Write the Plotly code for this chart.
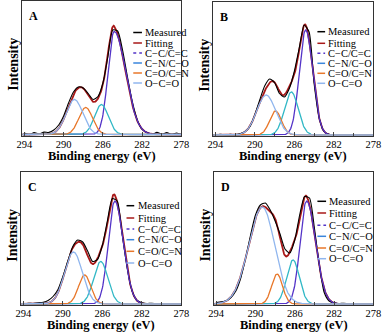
import numpy as np
import plotly.graph_objects as go

W, H = 390, 336
SERIF = "Liberation Serif"

# binding energy of the measured points (eV)
energy = [294.0, 293.5, 293.0, 292.5, 292.0, 291.5, 291.0, 290.5, 290.0, 289.5,
          289.0, 288.5, 288.0, 287.5, 287.0, 286.5, 286.0, 285.5, 285.0, 284.5,
          284.0, 283.5, 283.0, 282.5, 282.0, 281.5, 281.0, 280.5, 280.0, 279.5,
          279.0, 278.5, 278.0]

# measured C 1s intensity (a.u.)
measured_a = [3.0, 1.3, 3.4, 1.9, 3.9, 3.6, 6.0, 11.0, 20.0, 33.0,
              44.0, 49.0, 48.0, 42.5, 36.5, 39.5, 53.0, 79.0, 106.0, 105.0,
              86.0, 59.0, 34.0, 16.0, 6.5, 3.4, 1.5, 3.6, 1.8, 3.4,
              1.6, 3.0, 1.4]
measured_b = [1.2, 1.8, 1.0, 1.6, 1.4, 2.2, 4.3, 9.3, 21.0, 36.0,
              50.0, 57.0, 53.5, 42.5, 39.0, 47.5, 64.5, 88.0, 111.0, 104.0,
              53.0, 19.0, 4.5, 1.8, 1.2, 1.5, 0.9, 1.3, 1.0, 1.4,
              0.9, 1.2, 1.0]
measured_c = [1.2, 1.8, 1.4, 2.2, 2.8, 4.5, 8.5, 15.5, 28.5, 44.0,
              58.5, 65.0, 63.0, 54.0, 43.5, 45.5, 60.0, 84.0, 106.5, 104.0,
              70.5, 37.0, 14.0, 4.5, 2.2, 1.4, 1.8, 1.1, 1.5, 1.0,
              1.4, 0.9, 1.2]
measured_d = [2.4, 3.2, 4.3, 7.5, 14.0, 27.0, 47.0, 70.0, 90.0, 100.0,
              102.0, 95.0, 84.0, 71.0, 56.0, 52.0, 65.0, 90.0, 108.5, 107.0,
              77.0, 40.0, 12.5, 4.0, 2.2, 1.4, 1.8, 1.2, 1.5, 1.0,
              1.3, 0.9, 1.1]

component_names = ["C\u2212C/C=C", "C\u2212N/C\u2212O", "C=O/C=N", "O\u2212C=O"]
component_colors = ["#5434c8", "#31b8c6", "#e8772a", "#90b6ee"]
legend_colors = ["#5434c8", "#3a86dc", "#e8772a", "#90b6ee"]

# fitted peaks: centre (eV), height, width on high-BE side, width on low-BE side
centers_a = [284.85, 286.15, 287.75, 288.90]
heights_a = [103, 30, 27, 35]
width_hi_a = [0.63, 0.70, 0.70, 0.85]
width_lo_a = [1.17, 0.70, 0.70, 0.85]

centers_b = [284.85, 286.30, 287.90, 288.85]
heights_b = [105, 43, 24, 40]
width_hi_b = [0.64, 0.70, 0.60, 0.95]
width_lo_b = [0.72, 0.70, 0.60, 0.95]

centers_c = [284.75, 286.17, 287.80, 288.93]
heights_c = [103, 42.5, 29, 52]
width_hi_c = [0.65, 0.72, 0.62, 0.90]
width_lo_c = [0.86, 0.72, 0.62, 0.90]

centers_d = [284.80, 286.18, 287.80, 289.30]
heights_d = [103, 44, 30, 97]
width_hi_d = [0.65, 0.65, 0.55, 1.40]
width_lo_d = [0.92, 0.65, 0.55, 1.25]

backgrounds = [1.5, 1.0, 1.0, 1.0]

panels = [
    dict(label="A", meas=measured_a, c=centers_a, h=heights_a, whi=width_hi_a, wlo=width_lo_a,
         box=(17, 1, 182, 136), leg=(132, 141, 142, [32.5, 43, 53, 63, 73, 83])),
    dict(label="B", meas=measured_b, c=centers_b, h=heights_b, whi=width_hi_b, wlo=width_lo_b,
         box=(215, 2, 381, 136), leg=(323, 331, 332, [31.7, 43.3, 53.3, 63.3, 73.3, 83.3])),
    dict(label="C", meas=measured_c, c=centers_c, h=heights_c, whi=width_hi_c, wlo=width_lo_c,
         box=(16, 172, 182, 305), leg=(125, 133, 135, [205.7, 218, 229, 239.7, 251.3, 263])),
    dict(label="D", meas=measured_d, c=centers_d, h=heights_d, whi=width_hi_d, wlo=width_lo_d,
         box=(216, 172, 381, 305), leg=(323, 332, 333, [201.3, 213, 225.3, 236.3, 248, 258.7])),
]


def px(x):
    return x / W


def py(y):
    return 1 - y / H


def peak(e, c, h, whi, wlo):
    w = np.where(e >= c, whi, wlo)
    return h * np.exp(-(e - c) ** 2 / (2 * w ** 2))


e_fine = np.linspace(294.2, 278.0, 400)

fig = go.Figure()
annotations = []
shapes = []

for i, p in enumerate(panels):
    n = "" if i == 0 else str(i + 1)
    xa, ya = "x" + n, "y" + n
    bg = backgrounds[i]
    x0, y0, x1, y1 = p["box"]

    comps = [peak(e_fine, c, h, a, b) for c, h, a, b in zip(p["c"], p["h"], p["whi"], p["wlo"])]
    fit = bg + sum(comps)

    fig.add_trace(go.Scatter(x=e_fine, y=fit, mode="lines", xaxis=xa, yaxis=ya,
                             line=dict(color="#a81818", width=1.8), showlegend=False))
    fig.add_trace(go.Scatter(x=energy, y=p["meas"], mode="lines", xaxis=xa, yaxis=ya,
                             line=dict(color="#000000", width=1.1, shape="spline", smoothing=0.6),
                             showlegend=False))
    for comp, col in zip(comps, component_colors):
        fig.add_trace(go.Scatter(x=e_fine, y=comp + bg, mode="lines", xaxis=xa, yaxis=ya,
                                 line=dict(color=col, width=1.3), showlegend=False))

    axis_x = dict(domain=[px(x0), px(x1)], range=[294.2, 278.0], anchor=ya,
                  tickvals=[294, 290, 286, 282, 278], ticks="inside", ticklen=4,
                  minor=dict(tickvals=[292, 288, 284, 280], ticks="inside", ticklen=3),
                  showline=True, mirror=True, linecolor="#333333", linewidth=1,
                  showgrid=False, zeroline=False, ticklabelstandoff=-2,
                  tickfont=dict(family=SERIF, size=10.5, color="#000000"))
    axis_y = dict(domain=[py(y1), py(y0)], range=[0, y1 - y0], anchor=xa,
                  showticklabels=False, ticks="", showline=True, mirror=True,
                  linecolor="#333333", linewidth=1, showgrid=False, zeroline=False)
    fig.update_layout({"xaxis" + n: axis_x, "yaxis" + n: axis_y})

    # panel letter
    annotations.append(dict(x=px(x0 + 5), y=py(y0 + 6), xref="paper", yref="paper",
                            text="<b>%s</b>" % p["label"], showarrow=False,
                            xanchor="left", yanchor="top",
                            font=dict(family=SERIF, size=12, color="#000000")))
    # axis titles
    annotations.append(dict(x=px((x0 + x1) / 2), y=py(y1 + 20), xref="paper", yref="paper",
                            text="<b>Binding energy (eV)</b>", showarrow=False,
                            xanchor="center", yanchor="middle",
                            font=dict(family=SERIF, size=12.5, color="#000000")))
    annotations.append(dict(x=px(x0 - 10), y=py(y0 + 63), xref="paper", yref="paper",
                            text="<b>Intensity</b>", showarrow=False, textangle=-90,
                            xanchor="center", yanchor="middle",
                            font=dict(family=SERIF, size=14, color="#000000")))

    # legend drawn by hand (plotly's legend rows are too tall for this size)
    lx0, lx1, tx, rows = p["leg"]
    names = ["Measured", "Fitting"] + component_names
    cols = ["#000000", "#a81818"] + legend_colors
    for k, (name, col, ry) in enumerate(zip(names, cols, rows)):
        shapes.append(dict(type="line", xref="paper", yref="paper",
                           x0=px(lx0), x1=px(lx1), y0=py(ry), y1=py(ry),
                           line=dict(color=col, width=1.5, dash="dot" if k == 2 else "solid")))
        annotations.append(dict(x=px(tx), y=py(ry), xref="paper", yref="paper",
                                text=name, showarrow=False, xanchor="left", yanchor="middle",
                                font=dict(family=SERIF, size=10.5, color="#000000")))

fig.update_layout(width=W, height=H, margin=dict(l=0, r=0, t=0, b=0),
                  paper_bgcolor="white", plot_bgcolor="white",
                  annotations=annotations, shapes=shapes, showlegend=False)

# the page's default body margin would push the figure off the window
fig.write_html("out.html", config={"displayModeBar": False},
               post_script="document.body.style.margin='0px';")
